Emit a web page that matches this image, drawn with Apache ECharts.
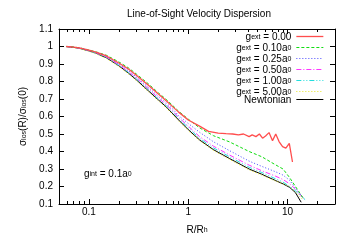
<!DOCTYPE html>
<html><head><meta charset="utf-8">
<script src="https://cdn.jsdelivr.net/npm/echarts@6/dist/echarts.min.js"></script>
<style>html,body{margin:0;padding:0;background:#fff}#c{width:350px;height:245px}</style>
</head><body><div id="c"></div>
<script>
// ---- data ----
const rCommon = [0.059,0.07,0.08,0.1,0.12,0.15,0.2,0.25,0.3,0.4,0.5,0.6,0.7,0.8,1.0,1.3,1.8,2.6,4.1,5.5,7.5,9,10.5,12];
const rRed = [0.059,0.07,0.08,0.1,0.12,0.15,0.2,0.25,0.3,0.4,0.5,0.6,0.7,0.8,1.0,1.3,1.6,2.0,2.4,2.8,3.2,3.6,4.1,4.4,4.8,5.2,5.6,6.0,6.5,7.05,7.6,8.2,8.9,9.6,10.4,11.2];
const vRed = [1.0,0.996,0.992,0.979,0.966,0.946,0.906,0.871,0.836,0.777,0.728,0.69,0.655,0.625,0.58,0.545,0.515,0.505,0.502,0.50,0.495,0.50,0.485,0.495,0.485,0.50,0.476,0.489,0.508,0.462,0.50,0.457,0.428,0.419,0.447,0.34];
const vGreen = [1.0,0.997,0.993,0.98,0.968,0.95,0.912,0.878,0.843,0.785,0.735,0.698,0.662,0.63,0.585,0.535,0.49,0.455,0.40,0.37,0.325,0.30,0.25,0.20];
const vBlue = [1.0,0.996,0.992,0.978,0.965,0.943,0.9,0.862,0.826,0.765,0.715,0.678,0.642,0.605,0.56,0.51,0.455,0.405,0.345,0.315,0.285,0.265,0.235,0.19];
const vPink = [1.0,0.996,0.991,0.977,0.963,0.94,0.896,0.856,0.82,0.757,0.705,0.668,0.632,0.595,0.545,0.485,0.43,0.38,0.322,0.29,0.26,0.24,0.215,0.185];
const vCyan = [1.0,0.995,0.99,0.976,0.962,0.938,0.893,0.852,0.815,0.752,0.70,0.662,0.625,0.59,0.535,0.475,0.42,0.37,0.31,0.28,0.245,0.225,0.2,0.175];
const vYellow = [1.0,0.994,0.988,0.973,0.957,0.932,0.886,0.843,0.805,0.74,0.69,0.65,0.61,0.575,0.52,0.462,0.405,0.355,0.295,0.265,0.232,0.215,0.2,0.17];
const vNewton = [1.0,0.995,0.99,0.975,0.96,0.935,0.89,0.848,0.81,0.745,0.695,0.655,0.615,0.58,0.525,0.466,0.41,0.36,0.30,0.27,0.235,0.215,0.195,0.165];
// last points of each tail: [R, value]
const endGreen = [14.5,0.13], endBlue = [14.5,0.13], endPink = [14.5,0.13], endCyan = [15,0.125], endYellow = [14.5,0.12], endNewton = [13.7,0.11];
const seriesNames = ['gext = 0.00','gext = 0.10a0','gext = 0.25a0','gext = 0.50a0','gext = 1.00a0','gext = 5.00a0','Newtonian'];
const legendRich = [
  '{n|g}{s|ext}{n| = 0.00}',
  '{n|g}{s|ext}{n| = 0.10a}{s|0}',
  '{n|g}{s|ext}{n| = 0.25a}{s|0}',
  '{n|g}{s|ext}{n| = 0.50a}{s|0}',
  '{n|g}{s|ext}{n| = 1.00a}{s|0}',
  '{n|g}{s|ext}{n| = 5.00a}{s|0}',
  '{n|Newtonian}'
];
const minorTicksX = [0.06,0.07,0.08,0.09,0.2,0.3,0.4,0.5,0.6,0.7,0.8,0.9,2,3,4,5,6,7,8,9,20];

function zip(rs, vs, end){ const d = rs.map((r,i)=>[r, vs[i]]); if(end) d.push(end); return d; }

const FONT = 'Liberation Sans, Arial, sans-serif';
const rich = {
  n: {fontSize: 10, fontFamily: FONT, color: '#000', lineHeight: 9, verticalAlign: 'top'},
  s: {fontSize: 7, fontFamily: FONT, color: '#000', lineHeight: 7, verticalAlign: 'bottom', padding: [5,0,0,0]}
};

const styles = [
  {color:'#ff4d4d', width:1.3, type:'solid'},
  {color:'#11dd11', width:1, type:[3,2]},
  {color:'#4848ff', width:1, type:[1,2]},
  {color:'#ff33ff', width:1, type:[5,2,1,2]},
  {color:'#22dddd', width:1, type:[5,2,1,2,1,2]},
  {color:'#e6e620', width:1, type:[1,2]},
  {color:'#000000', width:1, type:'solid'}
];
const dataSets = [
  zip(rRed, vRed),
  zip(rCommon, vGreen, endGreen),
  zip(rCommon, vBlue, endBlue),
  zip(rCommon, vPink, endPink),
  zip(rCommon, vCyan, endCyan),
  zip(rCommon, vYellow, endYellow),
  zip(rCommon, vNewton, endNewton)
];

const axisLineStyle = {show:true, lineStyle:{color:'#000', width:1}};
const baseX = {type:'log', logBase:10, min:0.05, max:30, gridIndex:0, splitLine:{show:false}};
const chart = echarts.init(document.getElementById('c'), null, {renderer:'canvas'});
chart.setOption({
  animation:false,
  backgroundColor:'#fff',
  title:{text:'Line-of-Sight Velocity Dispersion', left:127, top:9, padding:0,
    textStyle:{fontSize:10, fontWeight:'normal', fontFamily:FONT, color:'#000'}},
  grid:{left:59, right:15, top:29, bottom:41, containLabel:false},
  legend:{orient:'vertical', right:26, top:29, padding:0, align:'right', itemGap:-2,
    itemWidth:27, itemHeight:8,
    data: seriesNames.map((n,i)=>({name:n, itemStyle:{opacity:0},
      lineStyle:{color:styles[i].color, width:styles[i].width, type:styles[i].type, opacity:1}})),
    formatter:(name)=>legendRich[seriesNames.indexOf(name)],
    textStyle:{fontSize:10, fontFamily:FONT, color:'#000', rich:rich}},
  graphic:[{type:'text', left:84, top:166,
    style:{text:'{n|g}{s|int}{n| = 0.1a}{s|0}', rich:rich, fill:'#000', font:'10px '+FONT}}],
  xAxis:[
    Object.assign({}, baseX, {position:'bottom', axisLine:axisLineStyle,
      axisTick:{show:true, inside:true, length:5, lineStyle:{color:'#000'}},
      axisLabel:{show:true, margin:3, showMinLabel:false, showMaxLabel:false, fontSize:10, fontFamily:FONT, color:'#000'},
      name:'{n|R/R}{s|h}', nameLocation:'middle', nameGap:17, nameTextStyle:{rich:rich}}),
    Object.assign({}, baseX, {position:'bottom', axisLine:{show:false},
      axisTick:{show:true, inside:true, length:3, customValues:minorTicksX, lineStyle:{color:'#000'}},
      axisLabel:{show:false}}),
    Object.assign({}, baseX, {position:'top', axisLine:axisLineStyle,
      axisTick:{show:true, inside:true, length:5, lineStyle:{color:'#000'}},
      axisLabel:{show:false}}),
    Object.assign({}, baseX, {position:'top', axisLine:{show:false},
      axisTick:{show:true, inside:true, length:3, customValues:minorTicksX, lineStyle:{color:'#000'}},
      axisLabel:{show:false}})
  ],
  yAxis:[
    {type:'value', min:0.1, max:1.1, interval:0.1, position:'left', axisLine:axisLineStyle,
      axisTick:{show:true, inside:true, length:5, lineStyle:{color:'#000'}},
      axisLabel:{margin:6, fontSize:10, fontFamily:FONT, color:'#000'},
      splitLine:{show:false},
      name:'{n|σ}{s|los}{n|(R)/σ}{s|los}{n|(0)}', nameLocation:'middle', nameGap:30, nameRotate:90,
      nameTextStyle:{rich:rich}},
    {type:'value', min:0.1, max:1.1, interval:0.1, position:'right', axisLine:axisLineStyle,
      axisTick:{show:true, inside:true, length:5, lineStyle:{color:'#000'}},
      axisLabel:{show:false}, splitLine:{show:false}}
  ],
  series: dataSets.map((d,i)=>({
    name: seriesNames[i], type:'line', xAxisIndex:0, yAxisIndex:0, data:d,
    showSymbol:false, symbol:'none', smooth:false, z: 10-i,
    lineStyle: styles[i], itemStyle:{color: styles[i].color}
  }))
});
</script></body></html>
